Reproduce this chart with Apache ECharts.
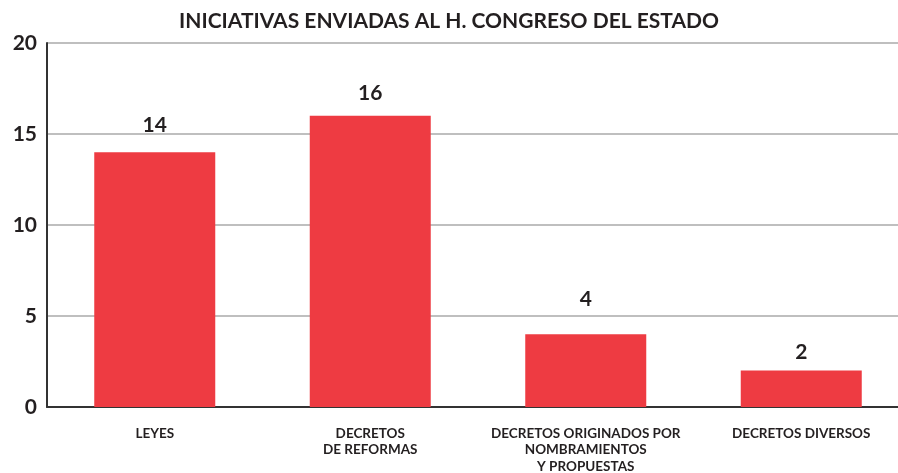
<!DOCTYPE html>
<html>
<head>
<meta charset="utf-8">
<script src="https://cdn.jsdelivr.net/npm/echarts@6/dist/echarts.min.js"></script>
<style>
	html,body{margin:0;padding:0;background:#fff;}
	#main{width:898px;height:473px;}
</style>
</head>
<body>
<div id="main"></div>
<script>
var categories = ['LEYES', 'DECRETOS\nDE REFORMAS', 'DECRETOS ORIGINADOS POR\nNOMBRAMIENTOS\nY PROPUESTAS', 'DECRETOS DIVERSOS'];
var values = [14, 16, 4, 2];
var yTicks = [0, 5, 10, 15, 20];

// gap between each value label and its bar, as in the original artwork
var labelGap = [16, 12, 24, 8];

var barData = values.map(function(v, i){
	return { value: v, label: { distance: labelGap[i] } };
});

var myChart = echarts.init(document.getElementById('main'));
var option = {
	animation: false,
	title: {
		text: 'INICIATIVAS ENVIADAS AL H. CONGRESO DEL ESTADO',
		left: 'center',
		top: 6,
		textStyle: {
			fontFamily: 'Lato',
			fontWeight: 'bold',
			fontSize: 21,
			color: '#231f20'
		}
	},
	grid: {
		left: 47,
		width: 862,
		top: 43,
		bottom: 66,
		outerBoundsMode: 'none'
	},
	xAxis: {
		type: 'category',
		data: categories,
		axisLine: { lineStyle: { color: '#333', width: 2 } },
		axisTick: { show: false },
		axisLabel: {
			interval: 0,
			margin: 18,
			fontFamily: 'Lato',
			fontWeight: 'bold',
			fontSize: 13.5,
			lineHeight: 16.5,
			color: '#231f20'
		}
	},
	yAxis: {
		type: 'value',
		min: yTicks[0],
		max: yTicks[yTicks.length - 1],
		interval: 5,
		axisLine: { show: true, lineStyle: { color: '#333', width: 2 } },
		axisTick: { show: false },
		splitLine: { lineStyle: { color: '#aaa', width: 1.5 } },
		axisLabel: {
			margin: 10,
			fontFamily: 'Lato',
			fontWeight: 'bold',
			fontSize: 21,
			color: '#231f20'
		}
	},
	series: [{
		type: 'bar',
		data: barData,
		barWidth: 121,
		itemStyle: { color: '#ee3b42' },
		label: {
			show: true,
			position: 'top',
			distance: 16,
			fontFamily: 'Lato',
			fontWeight: 'bold',
			fontSize: 21,
			color: '#231f20'
		}
	}]
};
myChart.setOption(option);
</script>
</body>
</html>
